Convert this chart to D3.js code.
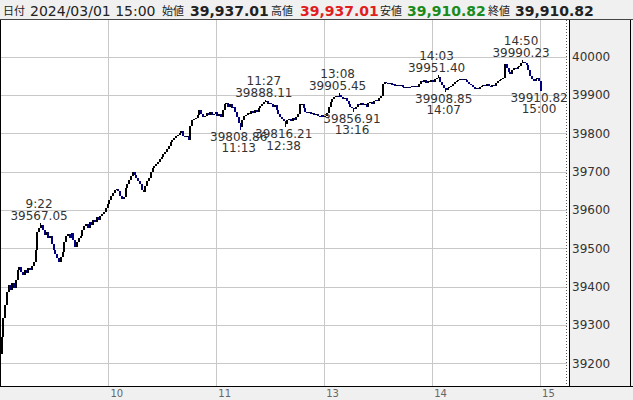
<!DOCTYPE html>
<html><head><meta charset="utf-8">
<script src="https://cdn.jsdelivr.net/npm/d3@7/dist/d3.min.js"></script>
<style>
html,body{margin:0;padding:0;background:#fff;}
svg{display:block;}
</style></head>
<body>
<svg id="chart" width="633" height="400"></svg>
<script>
// ---------------- DATA ----------------
const headerDate = "2024/03/01 15:00";
const headerLabels = ["始値", "高値", "安値", "終値"];
const headerValues = [39937.01, 39937.01, 39910.82, 39910.82];

const sessionStart = "9:00";
const firstOpen = 39225;
// 1-minute closes, 9:00-11:29 then 12:30-15:00
const closes = [
39269,39318,39352,39386,39404,39391,39410,39396,39417,39443,
39451,39438,39430,39443,39436,39449,39443,39454,39464,39496,
39543,39553,39560,39548,39535,39542,39527,39532,39511,39496,
39485,39475,39464,39477,39490,39516,39532,39537,39527,39540,
39522,39503,39516,39527,39532,39548,39558,39563,39553,39569,
39561,39574,39569,39582,39574,39584,39590,39595,39605,39616,
39626,39637,39644,39652,39655,39649,39637,39629,39634,39657,
39668,39678,39689,39699,39691,39683,39676,39668,39652,39647,
39663,39676,39683,39699,39710,39715,39720,39725,39733,39738,
39746,39751,39759,39767,39777,39783,39788,39793,39796,39801,
39806,39793,39790,39793,39783,39819,39835,39837,39840,39848,
39861,39851,39843,39846,39853,39848,39856,39848,39851,39856,
39846,39851,39843,39861,39876,39878,39870,39876,39865,39870,
39856,39843,39827,39816,39835,39846,39848,39853,39851,39859,
39853,39861,39856,39867,39872,39876,39882,39884,39876,39878,
39876,39870,39873,39861,39851,39843,39837,39832,39824,39835,
39837,39832,39840,39835,39843,39851,39876,39876,39865,39856,
39854,39856,39851,39854,39848,39851,39846,39843,39848,39843,
39846,39854,39870,39882,39889,39895,39897,39895,39900,39895,
39889,39892,39884,39876,39870,39865,39863,39870,39876,39873,
39878,39873,39876,39870,39878,39882,39876,39884,39887,39884,
39892,39897,39929,39934,39931,39929,39931,39926,39929,39923,
39926,39923,39926,39921,39918,39921,39918,39921,39923,39921,
39923,39921,39929,39937,39934,39939,39931,39937,39934,39939,
39934,39942,39944,39947,39934,39926,39918,39913,39918,39921,
39923,39929,39934,39937,39939,39942,39939,39942,39939,39934,
39929,39926,39921,39916,39918,39916,39921,39923,39926,39923,
39929,39923,39921,39926,39923,39931,39937,39939,39942,39944,
39981,39971,39960,39955,39965,39971,39968,39973,39976,39983,
39985,39983,39978,39965,39950,39942,39937,39942,39944,39937.01,
39910.82
];

const annTimes  = ["9:22", "11:13", "11:27", "12:38", "13:08", "13:16", "14:03", "14:07", "14:50", "15:00"];
const annValues = [39567.05, 39808.86, 39888.11, 39816.21, 39905.45, 39856.91, 39951.40, 39908.85, 39990.23, 39910.82];
const annKinds  = ["high", "low", "high", "low", "high", "low", "high", "low", "high", "low"];

const xTickTimes  = ["10:00", "11:00", "13:00", "14:00", "15:00"];
const xTickLabels = ["10", "11", "13", "14", "15"];
const yTicks = [39200, 39300, 39400, 39500, 39600, 39700, 39800, 39900, 40000];

// ---------------- HELPERS ----------------
function tradeMin(t) {
  const [h, m] = t.split(":").map(Number);
  let v = h * 60 + m - 9 * 60;
  if (h * 60 + m >= 12 * 60 + 30) v -= 60; // lunch break
  return v;
}

// ---------------- LAYOUT ----------------
const W = 633, H = 400;
const plotL = 0, plotR = 569, plotT = 20, plotB = 387;
const svg = d3.select("#chart");
const FONT = "'DejaVu Sans', Verdana, sans-serif";
const CJK = "'Noto Sans CJK JP', sans-serif";

const x = d3.scaleLinear().domain([0, 316.1]).range([0.5, plotR]);
const y = d3.scaleLinear().domain([39200, 40000]).range([363.3, 56.7]);

// backgrounds
svg.append("rect").attr("x", 0).attr("y", 0).attr("width", W).attr("height", plotT).attr("fill", "#f0f0f0");
svg.append("rect").attr("x", plotR).attr("y", plotT).attr("width", W - plotR).attr("height", plotB - plotT).attr("fill", "#f0f0f0");
svg.append("rect").attr("x", 0).attr("y", plotB).attr("width", W).attr("height", H - plotB).attr("fill", "#f0f0f0");
svg.append("rect").attr("x", 1).attr("y", plotT).attr("width", plotR - 1).attr("height", plotB - plotT).attr("fill", "#fff");

// grid
const grid = svg.append("g").attr("shape-rendering", "crispEdges");
grid.selectAll(".hg").data(yTicks).join("line")
  .attr("x1", 1).attr("x2", plotR - 2)
  .attr("y1", d => Math.round(y(d)) + 0.5).attr("y2", d => Math.round(y(d)) + 0.5)
  .attr("stroke", "#c8c8c8");
grid.selectAll(".vg").data(xTickTimes).join("line")
  .attr("x1", d => Math.round(x(tradeMin(d))) + 0.5).attr("x2", d => Math.round(x(tradeMin(d))) + 0.5)
  .attr("y1", plotT).attr("y2", plotB)
  .attr("stroke", "#c8c8c8");

// dotted end line
svg.append("line").attr("x1", plotR - 2.5).attr("x2", plotR - 2.5).attr("y1", plotT).attr("y2", plotB)
  .attr("stroke", "#555").attr("stroke-dasharray", "1,2").attr("shape-rendering", "crispEdges");

// candles
const candles = closes.map((c, i) => {
  const o = i === 0 ? firstOpen : closes[i - 1];
  return { i, o, c, hi: Math.max(o, c), lo: Math.min(o, c) };
});
annTimes.forEach((t, k) => {
  const cd = candles[tradeMin(t)];
  if (!cd) return;
  if (annKinds[k] === "high") cd.hi = Math.max(cd.hi, annValues[k]);
  else cd.lo = Math.min(cd.lo, annValues[k]);
});
const cg = svg.append("g").attr("shape-rendering", "crispEdges");
const col = d => d.c >= d.o ? "#000000" : "#000080";
cg.selectAll("line.w").data(candles).join("line")
  .attr("x1", d => Math.round(x(d.i)) + 0.5).attr("x2", d => Math.round(x(d.i)) + 0.5)
  .attr("y1", d => y(d.hi)).attr("y2", d => y(d.lo))
  .attr("stroke", col);
cg.selectAll("rect.b").data(candles).join("rect")
  .attr("x", d => Math.round(x(d.i)) - 0.5)
  .attr("width", 2)
  .attr("y", d => Math.min(y(d.o), y(d.c)))
  .attr("height", d => Math.max(1, Math.abs(y(d.o) - y(d.c))))
  .attr("fill", col);

// annotations
const ag = svg.append("g").attr("font-family", FONT).attr("font-size", 12).attr("fill", "#333").attr("text-anchor", "middle");
annTimes.forEach((t, k) => {
  const px = x(tradeMin(t)) - 1, py = y(annValues[k]);
  const v = annValues[k].toFixed(2);
  if (annKinds[k] === "high") {
    ag.append("text").attr("x", px).attr("y", py - 15).text(t);
    ag.append("text").attr("x", px).attr("y", py - 3).text(v);
  } else {
    ag.append("text").attr("x", px).attr("y", py + 11).text(v);
    ag.append("text").attr("x", px).attr("y", py + 22.5).text(t);
  }
});

// y labels
svg.append("g").selectAll("text").data(yTicks).join("text")
  .attr("x", 572).attr("y", d => y(d)).attr("dy", "0.36em")
  .attr("font-family", FONT).attr("font-size", 12).attr("fill", "#333")
  .text(d => d);

// x labels
svg.append("g").selectAll("text").data(xTickTimes).join("text")
  .attr("x", d => x(tradeMin(d)) + 2).attr("y", 397)
  .attr("font-family", FONT).attr("font-size", 10).attr("fill", "#666")
  .text((d, i) => xTickLabels[i]);

// frame lines
const fr = svg.append("g").attr("stroke", "#000").attr("shape-rendering", "crispEdges");
fr.append("line").attr("x1", 0).attr("x2", W).attr("y1", plotT - 0.5).attr("y2", plotT - 0.5).attr("stroke", "#444");
fr.append("line").attr("x1", 0).attr("x2", W).attr("y1", plotB - 0.5).attr("y2", plotB - 0.5);
fr.append("line").attr("x1", 0.5).attr("x2", 0.5).attr("y1", plotT).attr("y2", plotB);
fr.append("line").attr("x1", plotR + 0.5).attr("x2", plotR + 0.5).attr("y1", plotT).attr("y2", plotB);
fr.append("line").attr("x1", W - 2.5).attr("x2", W - 2.5).attr("y1", plotT).attr("y2", plotB);

// header
const hg = svg.append("g");
const fmt = d3.format(",.2f");
hg.append("text").attr("x", 3).attr("y", 15).attr("font-family", CJK).attr("font-size", 11).attr("fill", "#222").text("日付");
hg.append("text").attr("x", 30).attr("y", 16).attr("font-family", FONT).attr("font-size", 14).attr("fill", "#222").text(headerDate);
const labX = [162, 271, 380, 488];
const valX = [190, 300, 407, 515];
const valCol = ["#222", "#e01e1e", "#1a8a1a", "#222"];
headerLabels.forEach((l, i) => {
  hg.append("text").attr("x", labX[i]).attr("y", 15).attr("font-family", CJK).attr("font-size", 11).attr("fill", "#222").text(l);
  hg.append("text").attr("x", valX[i]).attr("y", 16).attr("font-family", FONT).attr("font-size", 14)
    .attr("font-weight", "bold").attr("fill", valCol[i]).text(fmt(headerValues[i]));
});
</script>
</body></html>
